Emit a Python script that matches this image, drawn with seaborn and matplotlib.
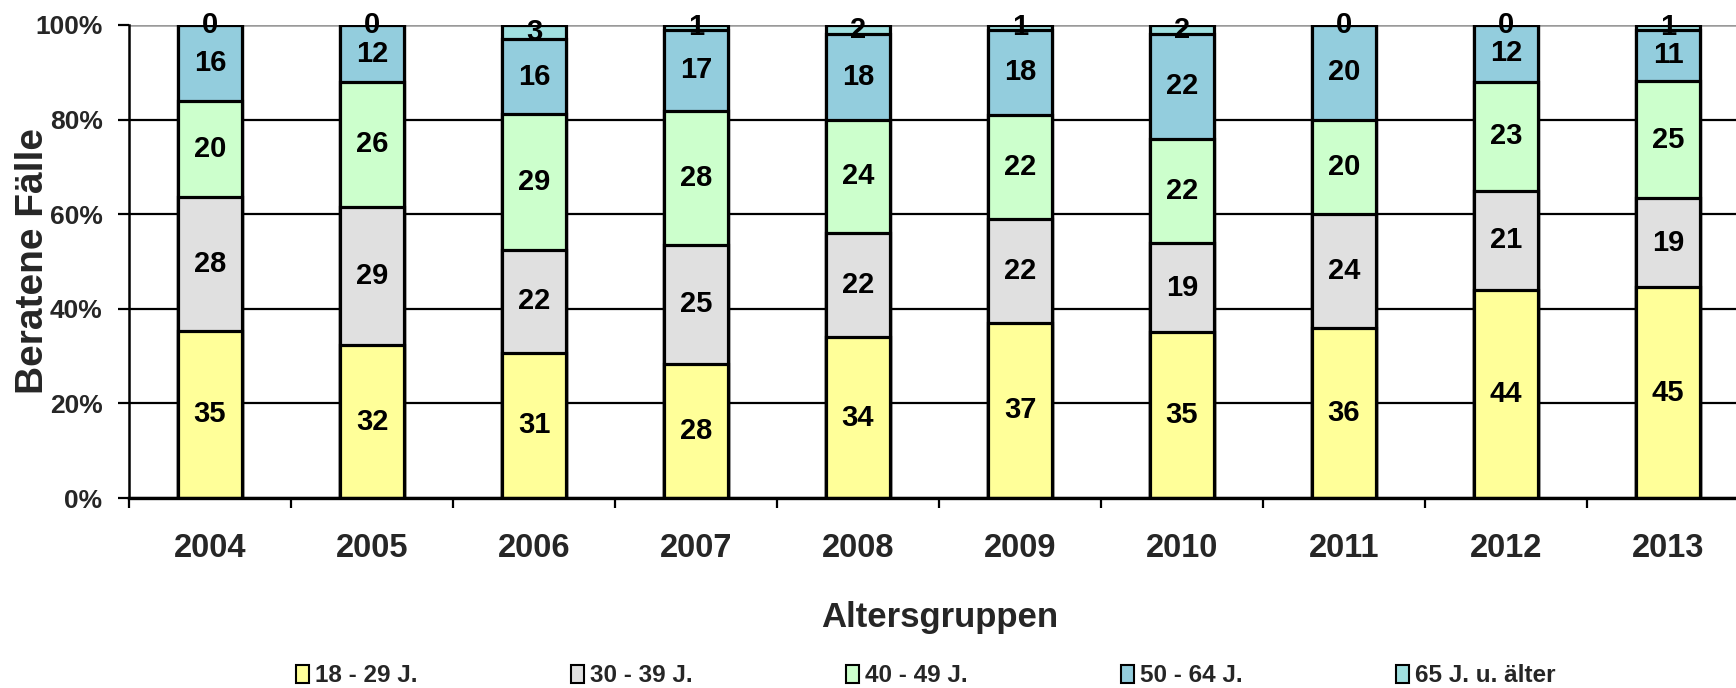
import matplotlib
matplotlib.use('Agg')
import matplotlib.pyplot as plt
from matplotlib import font_manager
from matplotlib.patches import Patch
from matplotlib.ticker import FixedLocator, NullFormatter
import seaborn as sns
import pandas as pd
import numpy as np

# ---------------- data ----------------
years = ['2004', '2005', '2006', '2007', '2008', '2009', '2010', '2011', '2012', '2013']
groups = ['18 - 29 J.', '30 - 39 J.', '40 - 49 J.', '50 - 64 J.', '65 J. u. älter']
age_18_29 = [35, 32, 31, 28, 34, 37, 35, 36, 44, 45]
age_30_39 = [28, 29, 22, 25, 22, 22, 19, 24, 21, 19]
age_40_49 = [20, 26, 29, 28, 24, 22, 22, 20, 23, 25]
age_50_64 = [16, 12, 16, 17, 18, 18, 22, 20, 12, 11]
age_65_plus = [0, 0, 3, 1, 2, 1, 2, 0, 0, 1]
colors = ['#FFFF99', '#E0E0E0', '#CCFFCC', '#93CDDD', '#A0E0E0']
y_ticks = [0, 20, 40, 60, 80, 100]
y_tick_labels = ['0%', '20%', '40%', '60%', '80%', '100%']
x_label = 'Altersgruppen'
y_label = 'Beratene Fälle'

# ---------------- style ----------------
sns.set_style('white')
plt.rcParams['font.family'] = ['Liberation Sans', 'DejaVu Sans']
plt.rcParams['font.weight'] = 'bold'

available = {f.name for f in font_manager.fontManager.ttflist}
has_narrow = 'Liberation Sans Narrow' in available
narrow_family = ['Liberation Sans Narrow', 'Liberation Sans', 'DejaVu Sans'] if has_narrow else ['Liberation Sans', 'DejaVu Sans']
xtick_size = 27 if has_narrow else 23.5
barlabel_size = 23 if has_narrow else 21

# ---------------- data frame ----------------
values = pd.DataFrame({g: v for g, v in zip(groups, [age_18_29, age_30_39, age_40_49, age_50_64, age_65_plus])},
                      index=years)
shares = values.div(values.sum(axis=1), axis=0) * 100.0
cum = shares.cumsum(axis=1)

W, H = 1736, 688
fig = plt.figure(figsize=(W / 100, H / 100), dpi=100)
ax = fig.add_axes([129 / W, 1 - 498 / H, 1620 / W, (498 - 25) / H])

# draw cumulative bars from tallest to shortest
for i in range(len(groups) - 1, -1, -1):
    d = pd.DataFrame({'year': years, 'top': cum[groups[i]].values})
    sns.barplot(data=d, x='year', y='top', order=years, color=colors[i], saturation=1,
                width=0.39, edgecolor='black', linewidth=2.3, ax=ax, zorder=3)

# segment labels
for j, yr in enumerate(years):
    bottom = 0.0
    for g in groups:
        h = shares.loc[yr, g]
        ax.text(j, bottom + h / 2, f"{values.loc[yr, g]:d}", ha='center', va='center',
                fontsize=barlabel_size, fontweight='bold', family=narrow_family,
                color='black', zorder=5, clip_on=False)
        bottom += h

# axes
ax.set_xlim(-0.5, len(years) - 0.5)
ax.set_ylim(0, 100)
ax.set_yticks(y_ticks)
ax.set_yticklabels(y_tick_labels)
ax.set_axisbelow(True)
ax.yaxis.grid(True, color='black', linewidth=1.6)
ax.xaxis.grid(False)
gls = ax.yaxis.get_gridlines()
gls[-1].set_color('#9A9A9A')
gls[-1].set_linewidth(1.8)

for s in ['top', 'right']:
    ax.spines[s].set_visible(False)
ax.spines['left'].set_color('black')
ax.spines['left'].set_linewidth(1.8)
ax.spines['bottom'].set_color('black')
ax.spines['bottom'].set_linewidth(2.4)
ax.spines['bottom'].set_zorder(4)

ax.tick_params(axis='y', which='major', direction='out', length=8, width=1.6, color='black',
               pad=11, labelsize=19, left=True)
for lab in ax.get_yticklabels():
    lab.set_fontweight('bold')

ax.xaxis.set_minor_locator(FixedLocator(np.arange(-0.5, len(years), 1.0)))
ax.xaxis.set_minor_formatter(NullFormatter())
ax.tick_params(axis='x', which='minor', direction='out', length=7, width=1.6, color='black', bottom=True)
ax.tick_params(axis='x', which='major', length=0, pad=25, labelsize=xtick_size)
for lab in ax.get_xticklabels():
    lab.set_fontweight('bold')
    lab.set_family(narrow_family)

ax.set_xlabel('')
ax.set_ylabel(y_label, fontsize=28, fontweight='bold')
ax.yaxis.set_label_coords((33 - 129) / 1620, 0.5)
ax.yaxis.label.set_va('center')

fig.text(940 / W, 1 - 627 / H, x_label, ha='center', va='baseline', fontsize=25, fontweight='bold')

handles = [Patch(facecolor=c, edgecolor='black', linewidth=1.5) for c in colors]
fig.legend(handles, groups, loc='center left', bbox_to_anchor=(296 / W, 1 - 676 / H),
           ncol=5, frameon=False, handlelength=0.53, handleheight=0.72,
           handletextpad=0.26, columnspacing=6.3, borderpad=0, borderaxespad=0,
           prop={'weight': 'bold', 'size': 17.5})

fig.savefig('out.png', dpi=100)
